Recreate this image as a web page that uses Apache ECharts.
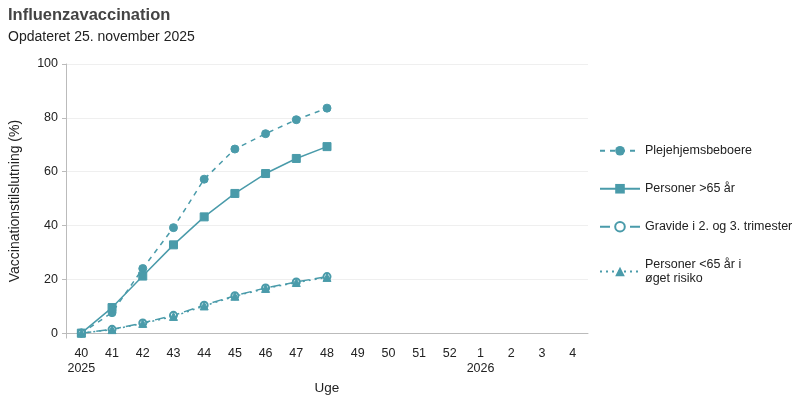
<!DOCTYPE html>
<html>
<head>
<meta charset="utf-8">
<script src="https://cdn.jsdelivr.net/npm/echarts@6/dist/echarts.min.js"></script>
<style>
  html, body { margin: 0; padding: 0; background: #fff; }
  #chart { width: 800px; height: 400px; }
</style>
</head>
<body>
<div id="chart"></div>
<script>
var weeks = ['40', '41', '42', '43', '44', '45', '46', '47', '48', '49', '50', '51', '52', '1', '2', '3', '4'];
var yearLabels = {'40': '2025', '1': '2026'};
var yTicks = [0, 20, 40, 60, 80, 100];

// Tilslutning (%) pr. uge
var plejehjem = [0, 7.6, 24.0, 39.2, 57.2, 68.4, 74.1, 79.3, 83.6];
var over65 = [0, 9.5, 21.2, 32.8, 43.2, 51.9, 59.3, 64.9, 69.3];
var gravide = [0, 1.4, 3.8, 6.6, 10.4, 13.9, 16.8, 19.0, 21.0];
var under65 = [0, 1.3, 3.6, 6.2, 10.1, 13.7, 16.6, 18.8, 20.7];

var color = '#4a9baa';

var chart = echarts.init(document.getElementById('chart'));

function line(name, data, symbol, type, size) {
    return {
        name: name,
        type: 'line',
        data: data,
        symbol: symbol,
        symbolSize: size,
        showAllSymbol: true,
        color: color,
        lineStyle: {color: color, width: 1.5, type: type},
        itemStyle: {color: color, borderColor: color},
        emphasis: {disabled: true},
        animation: false
    };
}

var option = {
    textStyle: {fontFamily: 'Liberation Sans, Arial, sans-serif'},
    title: {
        text: 'Influenzavaccination',
        subtext: 'Opdateret 25. november 2025',
        left: 3,
        top: 2,
        itemGap: 6,
        textStyle: {fontSize: 16.5, fontWeight: 'bold', color: '#444'},
        subtextStyle: {fontSize: 14, color: '#222'}
    },
    legend: {
        orient: 'vertical',
        left: 594,
        top: 139,
        itemWidth: 40,
        itemHeight: 12,
        itemGap: 24.5,
        textStyle: {fontSize: 12.5, color: '#222', lineHeight: 13.5},
        data: ['Plejehjemsbeboere', 'Personer >65 år', 'Gravide i 2. og 3. trimester', 'Personer <65 år i\nøget risiko']
    },
    grid: {left: 64, right: 212, top: 64, bottom: 60},
    xAxis: {
        type: 'category',
        data: weeks,
        name: 'Uge',
        nameLocation: 'middle',
        nameGap: 36,
        nameTextStyle: {fontSize: 13.5, color: '#222'},
        axisLine: {lineStyle: {color: '#bbb'}},
        axisTick: {alignWithLabel: true, length: 5, lineStyle: {color: '#bbb'}},
        axisLabel: {
            fontSize: 12.5,
            color: '#222',
            interval: 0,
            lineHeight: 15,
            formatter: function (v) { return yearLabels[v] ? v + '\n' + yearLabels[v] : v; }
        }
    },
    yAxis: {
        type: 'value',
        min: -1.85,
        max: 100,
        name: 'Vaccinationstilslutning (%)',
        nameLocation: 'middle',
        nameGap: 44,
        nameTextStyle: {fontSize: 14, color: '#222'},
        axisLine: {show: true, lineStyle: {color: '#bbb'}},
        axisTick: {show: true, length: 4, customValues: yTicks, lineStyle: {color: '#bbb'}},
        axisLabel: {fontSize: 12.5, color: '#222', margin: 8, customValues: yTicks},
        splitLine: {lineStyle: {color: '#efefef'}}
    },
    series: [
        line('Plejehjemsbeboere', plejehjem, 'circle', [5, 5], 8),
        line('Personer >65 år', over65, 'rect', 'solid', 8),
        line('Gravide i 2. og 3. trimester', gravide, 'emptyCircle', [10, 5], 7),
        line('Personer <65 år i\nøget risiko', under65, 'triangle', [2, 4], 8)
    ]
};

chart.setOption(option);
</script>
</body>
</html>
